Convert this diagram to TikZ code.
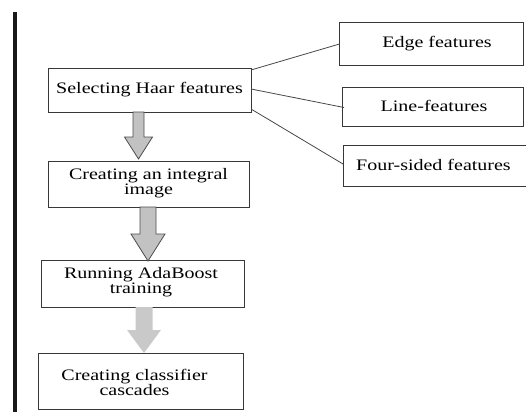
\documentclass[tikz,border=0pt]{standalone}
\usepackage{fontspec}
\newfontfamily\figfont[FakeStretch=1.25]{Liberation Serif}
\usetikzlibrary{calc}

\tikzset{
  stagebox/.style={draw=black!78, line width=1pt, fill=white,
    inner sep=0pt, outer sep=0pt},
  boxtext/.style={inner sep=0pt, align=center,
    font=\figfont\fontsize{16}{15}\selectfont},
  link/.style={draw=black!72, line width=0.8pt},
  outlinedarrow/.style={fill=black!24, draw=black!70, line width=0.8pt},
  plainarrow/.style={fill=black!21},
  % block arrow: shaft half width, head half width, shaft length, total length
  pics/blockarr/.style n args={4}{code={
    \path[pic actions] (-#1,0) -- (#1,0) -- (#1,-#3) -- (#2,-#3) -- (0,-#4)
      -- (-#2,-#3) -- (-#1,-#3) -- cycle;
  }},
}

\begin{document}
\begin{tikzpicture}[x=1pt, y=1pt]
  \useasboundingbox (0,0) rectangle (526,-412);

  % dark rule on the left
  \fill[black!90] (13,-12) rectangle (17,-412);

  % main pipeline
  \node[stagebox, minimum width=203pt, minimum height=44pt] (haar) at (149.5,-90) {};
  \node[boxtext] at (haar) {Selecting Haar features};

  \node[stagebox, minimum width=201pt, minimum height=46pt] (integral) at (148.5,-184) {};
  \node[boxtext] at ($(integral)+(0,0.5)$) {Creating an integral\\image};

  \node[stagebox, minimum width=203pt, minimum height=47pt] (adaboost) at (143,-283.5) {};
  \node[boxtext] at ($(adaboost)+(-2,1)$) {Running AdaBoost\\training};

  \node[stagebox, minimum width=205pt, minimum height=56pt] (cascade) at (140.5,-381) {};
  \node[boxtext] at ($(cascade)+(-6,-1.5)$) {Creating classifier\\cascades};

  % feature types
  \node[stagebox, minimum width=184pt, minimum height=42pt] (edge) at (431.5,-44) {};
  \node[boxtext] at ($(edge)+(5.5,0.5)$) {Edge features};

  \node[stagebox, minimum width=181pt, minimum height=39pt] (line) at (432.5,-106.5) {};
  \node[boxtext] at ($(line)+(1.5,0.5)$) {Line-features};

  \node[stagebox, minimum width=188pt, minimum height=41pt] (four) at (437,-165.5) {};
  \node[boxtext] at ($(four)+(-3.5,0.5)$) {Four-sided features};

  % connectors to the feature boxes
  \draw[link] ($(haar.north east)+(0,-2)$) -- (edge.west);
  \draw[link] ($(haar.east)+(0,1)$) -- ($(line.west)+(2,-1)$);
  \draw[link] ($(haar.south east)+(0,3)$) -- ($(four.west)+(0,1.5)$);

  % block arrows between the stages
  \pic[outlinedarrow] at ($(haar.south)+(-11,0)$) {blockarr={5.5}{14}{25}{47}};
  \pic[outlinedarrow] at ($(integral.south)+(-0.5,0)$) {blockarr={8}{17}{27}{54}};
  \pic[plainarrow] at ($(adaboost.south)+(1,0)$) {blockarr={8.5}{17}{23}{46}};
\end{tikzpicture}
\end{document}
